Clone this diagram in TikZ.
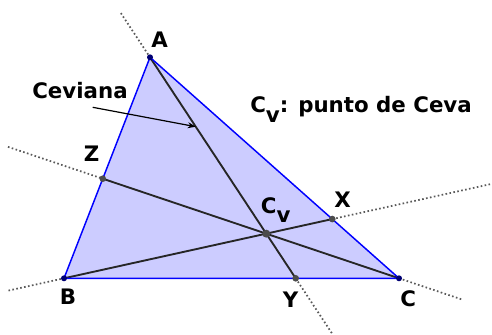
\documentclass[tikz,border=0pt]{standalone}
\usepackage{fontspec}
\setmainfont{DejaVu Sans}
\usetikzlibrary{calc,arrows.meta}
\begin{document}
\begin{tikzpicture}[x=0.75pt,y=-0.75pt,
  lbl/.style={font=\bfseries\fontsize{16pt}{18pt}\selectfont, inner sep=0pt},
  edge/.style={draw=blue, line width=1.1pt},
  cev/.style={draw=black!85, line width=1.4pt},
  ext/.style={draw=black!65, line width=1.3pt, dash pattern=on 1.2pt off 1.8pt},
  vtx/.style={circle, fill=blue!45!black, inner sep=0pt, minimum size=4.5pt},
  pt/.style={circle, fill=black!70, inner sep=0pt, minimum size=5pt}]
\useasboundingbox (0,0) rectangle (492,335);
\coordinate (A) at (150,57.3);
\coordinate (B) at (64,278.3);
\coordinate (C) at (399,278.3);
\coordinate (X) at ($(A)!0.732!(C)$);
\coordinate (Y) at ($(B)!0.6916!(C)$);
\coordinate (Cv) at (intersection of A--Y and B--X);
\coordinate (Z) at (intersection of C--Cv and A--B);
% dotted extensions
\coordinate (a1) at ($(A)!-0.2!(Y)$);
\coordinate (a2) at ($(A)!1.249!(Y)$);
\coordinate (b1) at ($(B)!-0.207!(X)$);
\coordinate (b2) at ($(B)!1.592!(X)$);
\coordinate (c1) at ($(Z)!-0.32!(C)$);
\coordinate (c2) at ($(Z)!1.215!(C)$);
\draw[ext] (a1) -- (A);
\draw[ext] (Y) -- (a2);
\draw[ext] (b1) -- (B);
\draw[ext] (X) -- (b2);
\draw[ext] (c1) -- (Z);
\draw[ext] (C) -- (c2);
% triangle
\fill[blue!20] (A) -- (B) -- (C) -- cycle;
\draw[cev] (A) -- (Y);
\draw[cev] (B) -- (X);
\draw[cev] (C) -- (Z);
\draw[edge, line join=round] (A) -- (B) -- (C) -- cycle;
% points
\node[vtx] (pA) at (A) {};
\node[vtx] (pB) at (B) {};
\node[vtx] (pC) at (C) {};
\node[pt] (pX) at (X) {};
\node[pt] (pY) at (Y) {};
\node[pt] (pZ) at (Z) {};
\node[pt, minimum size=6pt] (pCv) at (Cv) {};
% labels
\node[lbl] (lA) at (159.7,40) {A};
\node[lbl] (lB) at (68,297) {B};
\node[lbl] (lC) at (408.3,298.3) {C};
\node[lbl] (lX) at (342.7,200) {X};
\node[lbl] (lY) at (290.7,299.3) {Y};
\node[lbl] (lZ) at (91.7,153.7) {Z};
\node[lbl, anchor=base west] (lCv) at (260.7,213.3) {C\raisebox{-7pt}{v}};
\node[lbl, anchor=base west] (title) at (250,112.7) {C\raisebox{-7pt}{v}: punto de Ceva};
\node[lbl] (ceviana) at (80,90.3) {Ceviana};
\coordinate (tail) at (92.7,107.3);
\coordinate (head) at ($(A)!0.314!(Y)$);
\draw[-{Stealth[length=6pt,width=4.5pt]}, line width=0.9pt] (tail) -- (head);
\end{tikzpicture}
\end{document}
